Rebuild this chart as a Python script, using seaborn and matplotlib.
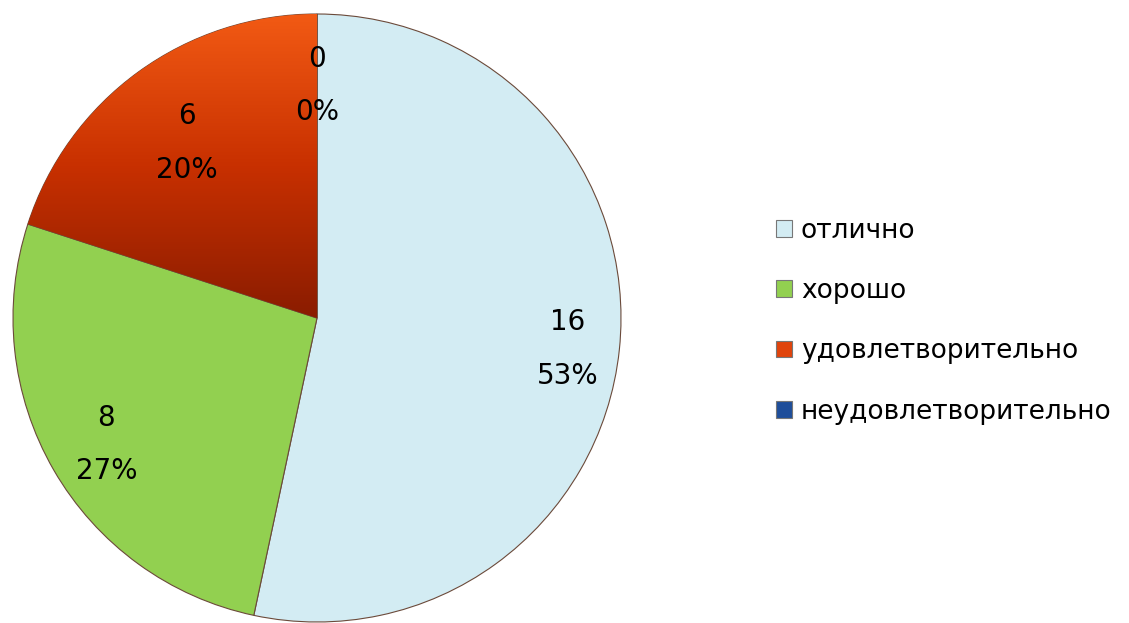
import numpy as np
import matplotlib
matplotlib.use("Agg")
import matplotlib.pyplot as plt
from matplotlib.patches import Patch
import seaborn as sns

categories = ["отлично", "хорошо", "удовлетворительно", "неудовлетворительно"]
counts = [16, 8, 6, 0]
colors = ["#d3ecf3", "#92d050", "#e0440c", "#1f4e9a"]
label_dist = [0.83, 0.80, 0.73, 0.78]

sns.set_theme(style="white")
plt.rcParams["font.family"] = ["DejaVu Sans"]

fig = plt.figure(figsize=(11.29, 6.23), dpi=100)
ax = fig.add_axes([13 / 1129, 1 / 623, 608 / 1129, 608 / 623])

wedges, _ = ax.pie(counts, colors=colors, startangle=90, counterclock=False,
                   radius=1.0,
                   wedgeprops=dict(edgecolor="#6b4a3a", linewidth=0.8))

# vertical gradient on the red wedge
red = wedges[2]
grad = np.linspace(0, 1, 256).reshape(-1, 1)
cmap = matplotlib.colors.LinearSegmentedColormap.from_list(
    "rg", ["#8a1c00", "#c83000", "#f25a14"])
im = ax.imshow(grad, extent=[-1, 0, 0, 1], origin="lower", cmap=cmap,
               aspect="auto", zorder=red.get_zorder() + 0.1)
im.set_clip_path(red)

total = sum(counts)
for w, c, d in zip(wedges, counts, label_dist):
    ang = np.deg2rad((w.theta1 + w.theta2) / 2)
    x, y = d * np.cos(ang), d * np.sin(ang) - 0.015
    pct = f"{round(100 * c / total)}%"
    ax.text(x, y, f"{c}\n{pct}", ha="center", va="center", fontsize=20,
            linespacing=2.15, color="black", zorder=10)

ax.set_xlim(-1.0, 1.0)
ax.set_ylim(-1.0, 1.0)
ax.set_aspect("equal")
ax.axis("off")

handles = [Patch(facecolor=c, edgecolor="#777777", linewidth=0.8) for c in colors]
leg = fig.legend(handles, categories, loc="upper left",
                 bbox_to_anchor=(752 / 1129, 1 - 194 / 623),
                 frameon=False, fontsize=19, handlelength=0.6, handleheight=0.6,
                 handletextpad=0.35, labelspacing=1.3)
for t in leg.get_texts():
    t.set_color("black")

fig.savefig("out.png", dpi=100)
